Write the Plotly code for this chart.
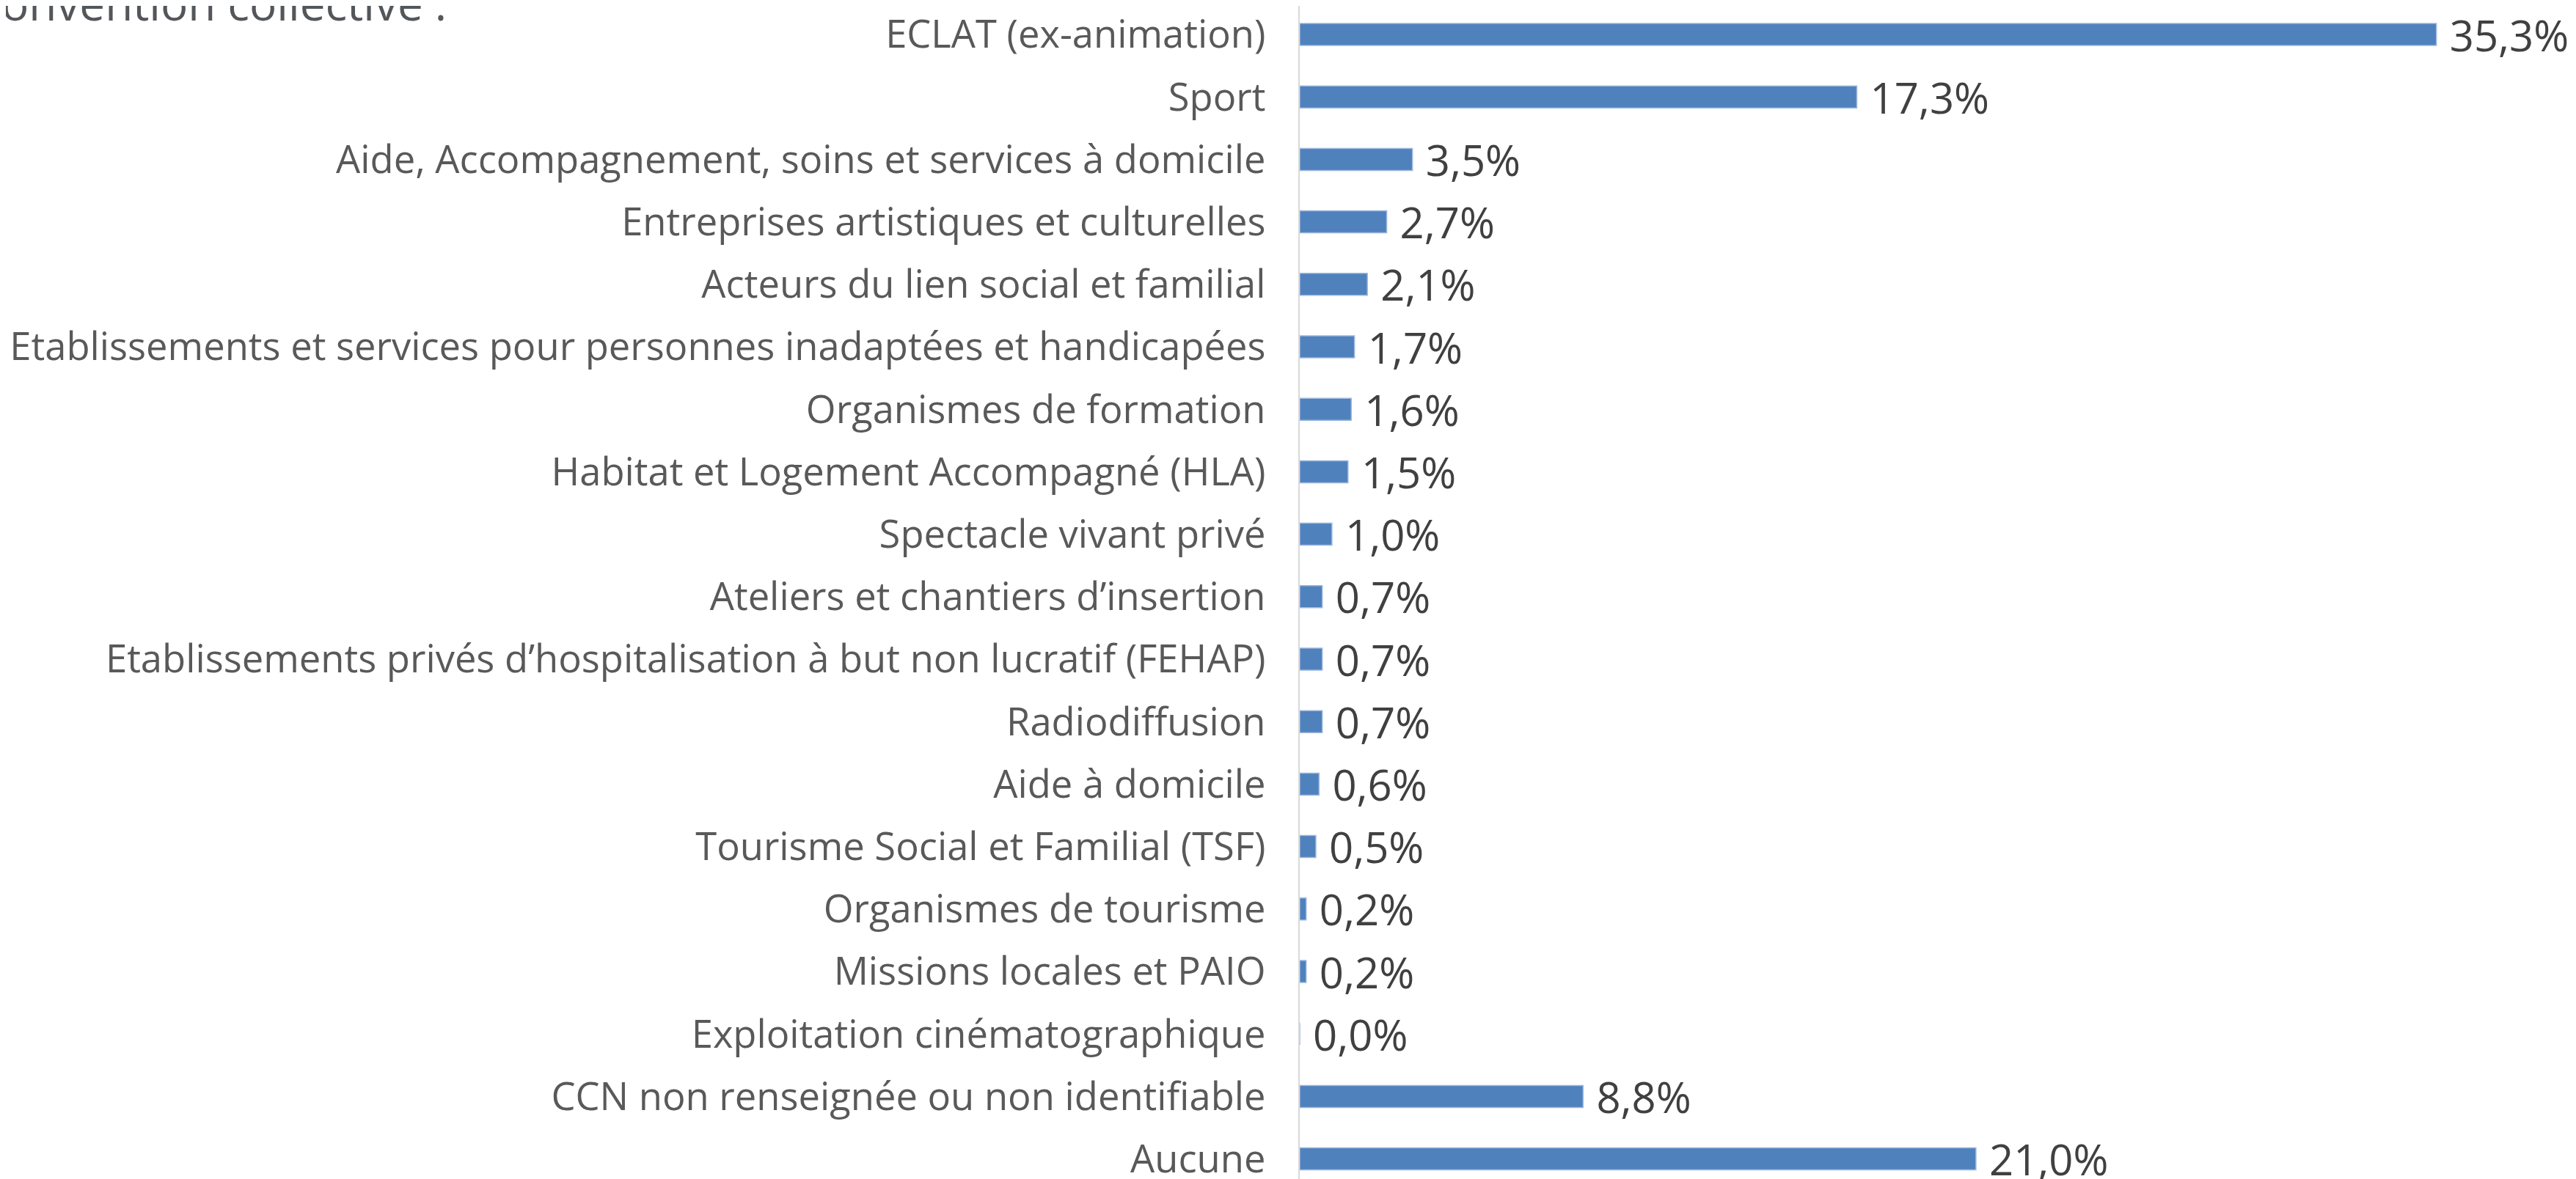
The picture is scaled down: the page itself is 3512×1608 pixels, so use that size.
import plotly.graph_objects as go

# Répartition par convention collective (%)
categories = [
    "ECLAT (ex-animation)",
    "Sport",
    "Aide, Accompagnement, soins et services à domicile",
    "Entreprises artistiques et culturelles",
    "Acteurs du lien social et familial",
    "Etablissements et services pour personnes inadaptées et handicapées",
    "Organismes de formation",
    "Habitat et Logement Accompagné (HLA)",
    "Spectacle vivant privé",
    "Ateliers et chantiers d’insertion",
    "Etablissements privés d’hospitalisation à but non lucratif (FEHAP)",
    "Radiodiffusion",
    "Aide à domicile",
    "Tourisme Social et Familial (TSF)",
    "Organismes de tourisme",
    "Missions locales et PAIO",
    "Exploitation cinématographique",
    "CCN non renseignée ou non identifiable",
    "Aucune",
]
values = [35.3, 17.3, 3.5, 2.7, 2.1, 1.7, 1.6, 1.5, 1.0, 0.7, 0.7, 0.7,
          0.6, 0.5, 0.2, 0.2, 0.0, 8.8, 21.0]
title_text = "Convention collective :"

# page body has an 8px margin, so the figure is a bit smaller than the window
W, H = 3504, 1600
left = 1764
px_per_pct = 43.9
row_h = 85.2
first_row = 39

fig = go.Figure(go.Bar(
    x=values,
    y=categories,
    orientation="h",
    marker=dict(color="#4F81BD", line=dict(color="#9db8dc", width=1.5)),
    texttemplate="\u00a0%{x:.1f}%",
    textposition="outside",
    constraintext="none",
    cliponaxis=False,
    textfont=dict(family="Open Sans", size=58, color="#404040"),
    hoverinfo="skip",
))

fig.update_layout(
    width=W, height=H,
    margin=dict(l=left, r=0, t=0, b=0),
    plot_bgcolor="white",
    paper_bgcolor="white",
    separators=", ",
    bargap=0.648,
    showlegend=False,
    font=dict(family="Open Sans", color="#595959"),
)
fig.update_xaxes(range=[0, (W - left) / px_per_pct], visible=False, showgrid=False)
fig.update_yaxes(
    range=[(H - first_row) / row_h, -first_row / row_h],
    showline=True, linecolor="#d9d9d9", linewidth=2,
    showgrid=False, ticks="", automargin=False,
    ticklabelstandoff=34,
    tickfont=dict(family="Open Sans", size=52.5, color="#595959"),
)

fig.add_annotation(
    text=title_text, xref="paper", yref="paper",
    x=(603 - left) / (W - left), y=1 - 40 / H,
    xanchor="right", yanchor="bottom", showarrow=False,
    font=dict(family="Open Sans", size=62, color="#53565a"),
)

fig.write_html("out.html")
